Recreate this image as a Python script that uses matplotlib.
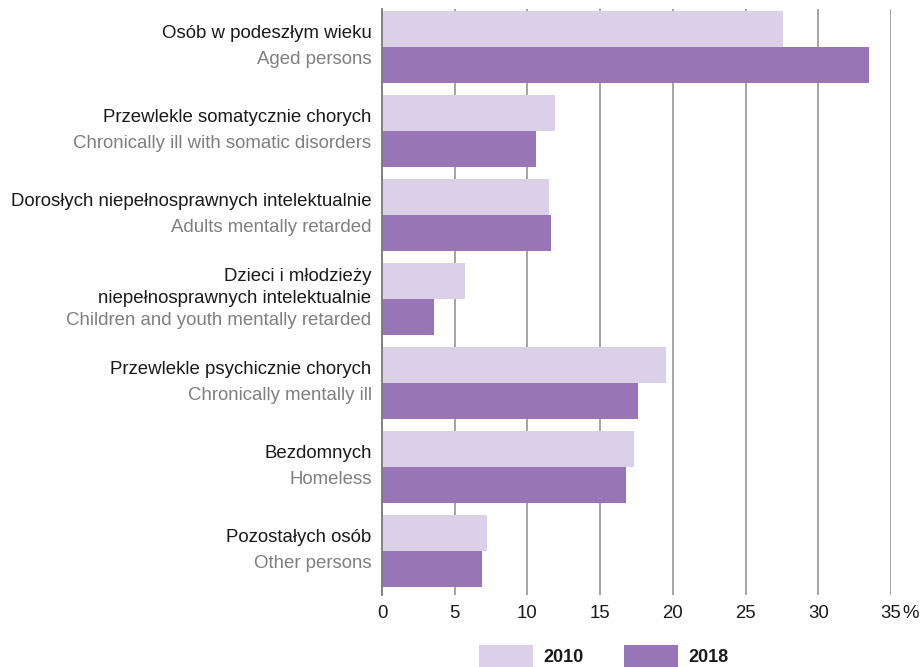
import matplotlib
matplotlib.use("Agg")
import matplotlib.pyplot as plt
import numpy as np

plt.rcParams['font.family'] = ['Liberation Sans', 'DejaVu Sans']

labels_pl = ["Osób w podeszłym wieku",
             "Przewlekle somatycznie chorych",
             "Dorosłych niepełnosprawnych intelektualnie",
             "Dzieci i młodzieży\nniepełnosprawnych intelektualnie",
             "Przewlekle psychicznie chorych",
             "Bezdomnych",
             "Pozostałych osób"]
labels_en = ["Aged persons",
             "Chronically ill with somatic disorders",
             "Adults mentally retarded",
             "Children and youth mentally retarded",
             "Chronically mentally ill",
             "Homeless",
             "Other persons"]
years = ["2010", "2018"]
v2010 = [27.6, 11.9, 11.5, 5.7, 19.5, 17.3, 7.2]
v2018 = [33.5, 10.6, 11.6, 3.6, 17.6, 16.8, 6.9]
xticks = [0, 5, 10, 15, 20, 25, 30, 35]

c2010 = "#dccfe8"
c2018 = "#9775b7"
FS = 13.4

W, H = 923, 667
fig = plt.figure(figsize=(W/100, H/100), dpi=100)
ax = fig.add_axes([382/W, 1-595/H, (891-382)/W, (595-9)/H])

y = np.arange(len(v2010))
bh = 36/84
ax.barh(y - bh/2, v2010, height=bh, color=c2010, label=years[0], zorder=3)
ax.barh(y + bh/2, v2018, height=bh, color=c2018, label=years[1], zorder=3)

ax.set_xlim(0, 35)
ax.set_ylim(6 + 44/84, -38/84)
ax.set_xticks(xticks)
ax.set_xticklabels([str(t) for t in xticks], fontsize=FS, color='#1a1a1a')
ax.tick_params(axis='x', length=0, pad=7)
ax.set_yticks([])
ax.grid(axis='x', color='#8a8a8a', lw=1.1, zorder=1)
for s in ['top', 'right', 'bottom']:
    ax.spines[s].set_visible(False)
ax.spines['left'].set_color('#7a7a7a')
ax.spines['left'].set_linewidth(1.3)
ax.spines['left'].set_zorder(4)

ax.annotate("%", xy=(35, 0), xycoords=('data', 'axes fraction'),
            xytext=(8, -7), textcoords='offset points', ha='left', va='top',
            fontsize=FS, color='#1a1a1a')

for i in range(len(v2010)):
    pl_lines = labels_pl[i].split("\n")
    lines = [(t, '#1a1a1a') for t in pl_lines] + [(labels_en[i], '#7f7f7f')]
    n = len(lines)
    lh = (25 if n == 2 else 22.4) * 0.72
    for k, (t, col) in enumerate(lines):
        off = -((k - (n - 1) / 2) * lh) + 0.5 * 0.72
        ax.annotate(t, xy=(0, i), xycoords=('axes fraction', 'data'),
                    xytext=(-7.5, off), textcoords='offset points',
                    ha='right', va='center', fontsize=FS, color=col)

leg = fig.legend(loc='center', bbox_to_anchor=(604/W, 1 - 656/H), ncol=2,
                 frameon=False, handlelength=2.95, handleheight=1.45,
                 handletextpad=0.6, columnspacing=2.25,
                 borderpad=0.0, borderaxespad=0.0,
                 prop={'weight': 'bold', 'size': 13})
for t in leg.get_texts():
    t.set_color('#1a1a1a')

fig.savefig("out.png", dpi=100)
